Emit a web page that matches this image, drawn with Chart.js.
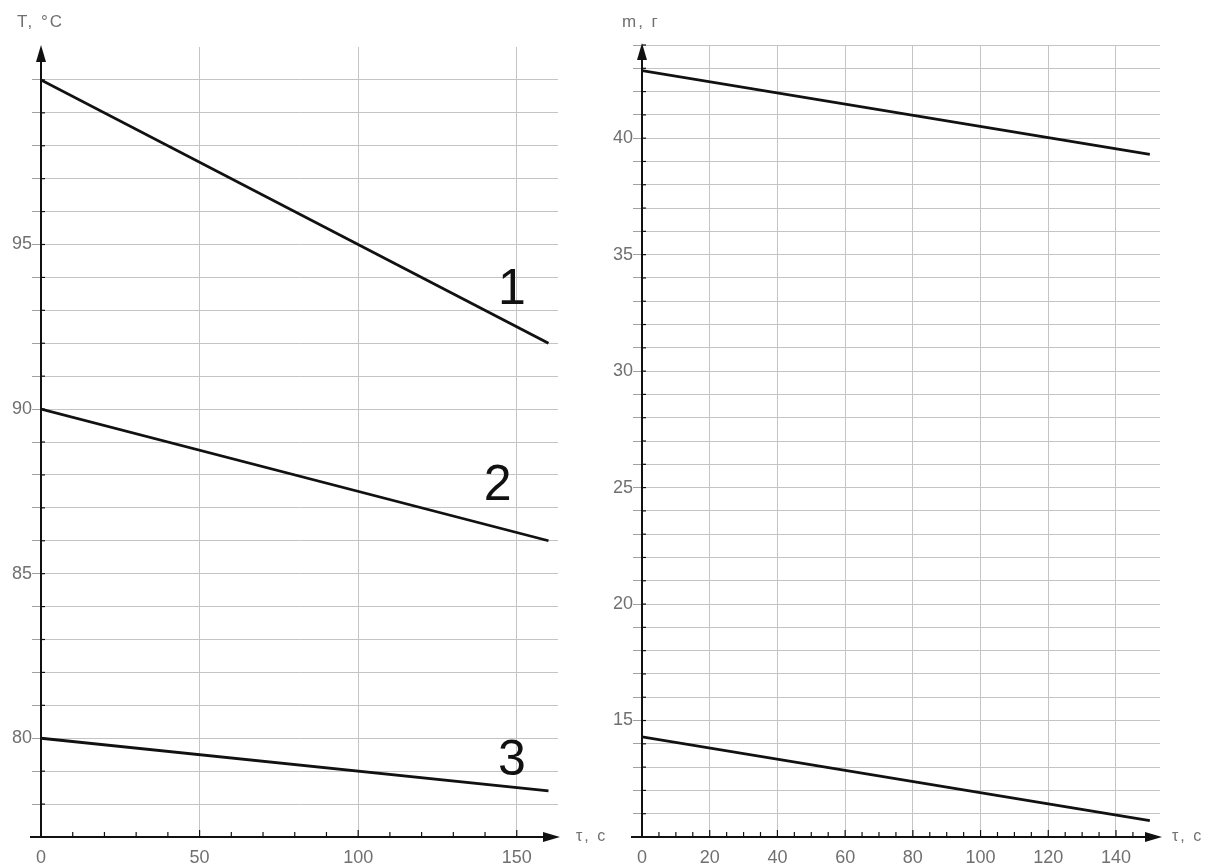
<!DOCTYPE html>
<html>
<head>
<meta charset="utf-8">
<title>T(τ), m(τ)</title>
<script src="https://cdn.jsdelivr.net/npm/chart.js@4.4.1/dist/chart.umd.min.js"></script>
<style>
  html, body { margin: 0; padding: 0; background: #fff; }
  #wrap { position: relative; width: 1218px; height: 866px; }
  canvas { position: absolute; top: 0; }
  #tempChart { left: 0; }
  #massChart { left: 609px; }
</style>
</head>
<body>
<div id="wrap">
  <canvas id="tempChart" width="609" height="866"></canvas>
  <canvas id="massChart" width="609" height="866"></canvas>
</div>
<script>
// temperature panel
var timeT = [0, 160];
var temp1 = [100, 92];
var temp2 = [90, 86];
var temp3 = [80, 78.4];
var tempLabels = [80, 85, 90, 95];
var timeLabelsT = [0, 50, 100, 150];
var curveNames = ['1', '2', '3'];
var curveNameX = [148.5, 144, 148.5];
var curveNameY = [93.6, 87.65, 79.3];

// mass panel
var timeM = [0, 150];
var massUpper = [42.9, 39.3];
var massLower = [14.3, 10.7];
var massLabels = [15, 20, 25, 30, 35, 40];
var timeLabelsM = [0, 20, 40, 60, 80, 100, 120, 140];

Chart.defaults.font.family = '"Liberation Sans", Arial, sans-serif';
Chart.defaults.color = '#707070';

var GRID = '#c4c4c4';
var NONE = 'rgba(0,0,0,0)';

function toPoints(xs, ys) {
    return xs.map(function (x, i) { return { x: x, y: ys[i] }; });
}

function lineSet(xs, ys) {
    return {
        data: toPoints(xs, ys),
        showLine: true,
        borderColor: '#111',
        borderWidth: 2.8,
        pointRadius: 0,
        fill: false
    };
}

// axis lines with arrows, inner ticks and captions
var axesPlugin = {
    id: 'axes',
    afterDatasetsDraw: function (chart, args, opts) {
        var ctx = chart.ctx, a = chart.chartArea;
        var xs = chart.scales.x, ys = chart.scales.y;
        ctx.save();
        ctx.strokeStyle = '#111';
        ctx.fillStyle = '#111';

        // short ticks pointing into the plot
        ctx.lineWidth = 1.2;
        xs.ticks.forEach(function (t) {
            if (t.value <= 0 || t.value % opts.xStep !== 0) return;
            var px = xs.getPixelForValue(t.value);
            var len = t.value % opts.xMajor === 0 ? 7 : 5;
            ctx.beginPath();
            ctx.moveTo(px, a.bottom);
            ctx.lineTo(px, a.bottom - len);
            ctx.stroke();
        });
        ys.ticks.forEach(function (t) {
            if (t.value <= ys.min || t.value > opts.yTop) return;
            var py = ys.getPixelForValue(t.value);
            ctx.beginPath();
            ctx.moveTo(a.left, py);
            ctx.lineTo(a.left + 4, py);
            ctx.stroke();
        });

        // axes
        ctx.lineWidth = 2;
        ctx.beginPath();
        ctx.moveTo(a.left - 11, a.bottom);
        ctx.lineTo(a.right - 6, a.bottom);
        ctx.moveTo(a.left, a.bottom);
        ctx.lineTo(a.left, a.top + 6);
        ctx.stroke();

        ctx.beginPath();
        ctx.moveTo(a.right + 2, a.bottom);
        ctx.lineTo(a.right - 15, a.bottom - 5);
        ctx.lineTo(a.right - 15, a.bottom + 5);
        ctx.closePath();
        ctx.fill();
        ctx.beginPath();
        ctx.moveTo(a.left, a.top - 2);
        ctx.lineTo(a.left - 5, a.top + 15);
        ctx.lineTo(a.left + 5, a.top + 15);
        ctx.closePath();
        ctx.fill();

        // axis captions
        ctx.fillStyle = '#707070';
        ctx.font = '17px "Liberation Sans", Arial, sans-serif';
        ctx.letterSpacing = '2px';
        ctx.textAlign = 'left';
        ctx.textBaseline = 'alphabetic';
        ctx.fillText(opts.yTitle, opts.yTitleX, 27);
        ctx.font = '16px "Liberation Sans", Arial, sans-serif';
        ctx.textBaseline = 'middle';
        ctx.fillText(opts.xTitle, a.right + opts.xTitleGap, a.bottom);
        ctx.letterSpacing = '0px';

        // curve numbers
        ctx.fillStyle = '#111';
        ctx.font = '50px "Liberation Sans", Arial, sans-serif';
        ctx.textAlign = 'center';
        ctx.textBaseline = 'middle';
        (opts.names || []).forEach(function (n, i) {
            ctx.fillText(n, xs.getPixelForValue(opts.nameX[i]), ys.getPixelForValue(opts.nameY[i]));
        });
        ctx.restore();
    }
};

function buildOptions(cfg) {
    return {
        responsive: false,
        animation: false,
        devicePixelRatio: 1,
        layout: { padding: { top: cfg.padTop, right: cfg.padRight, left: 0, bottom: 0 } },
        plugins: {
            legend: { display: false },
            tooltip: { enabled: false },
            axes: cfg.axes
        },
        scales: {
            x: {
                type: 'linear',
                min: 0,
                max: cfg.xMax,
                afterFit: function (s) { s.height = 29; },
                border: { display: false },
                grid: {
                    drawTicks: false,
                    lineWidth: 1,
                    color: function (c) {
                        var v = c.tick.value;
                        return (v > 0 && v % cfg.xMajor === 0 && v < cfg.xMax) ? GRID : NONE;
                    }
                },
                ticks: {
                    stepSize: cfg.xStep,
                    autoSkip: false,
                    maxRotation: 0,
                    padding: 10,
                    font: { size: 18 },
                    callback: function (v) { return cfg.xLabels.indexOf(v) >= 0 ? String(v) : ''; }
                }
            },
            y: {
                type: 'linear',
                min: cfg.yMin,
                max: cfg.yMax,
                afterFit: function (s) { s.width = cfg.yWidth; },
                border: { display: false },
                grid: {
                    lineWidth: 1,
                    tickLength: 9,
                    color: function (c) {
                        var v = c.tick.value;
                        return (v > cfg.yMin && v <= cfg.axes.yTop) ? GRID : NONE;
                    },
                    tickColor: function (c) {
                        var v = c.tick.value;
                        return (v > cfg.yMin && v <= cfg.axes.yTop) ? '#a0a0a0' : NONE;
                    }
                },
                ticks: {
                    stepSize: 1,
                    autoSkip: false,
                    maxTicksLimit: 200,
                    padding: 0,
                    font: { size: 18 },
                    callback: function (v) { return cfg.yLabels.indexOf(v) >= 0 ? String(v) : ''; }
                }
            }
        }
    };
}

new Chart(document.getElementById('tempChart'), {
    type: 'scatter',
    data: { datasets: [lineSet(timeT, temp1), lineSet(timeT, temp2), lineSet(timeT, temp3)] },
    options: buildOptions({
        padTop: 47, padRight: 51, yWidth: 41,
        xMax: 163, xStep: 10, xMajor: 50, xLabels: timeLabelsT,
        yMin: 77, yMax: 101, yLabels: tempLabels,
        axes: {
            xStep: 10, xMajor: 50, yTop: 100,
            yTitle: 'T, °C', yTitleX: 17, xTitle: 'τ, с', xTitleGap: 18,
            names: curveNames, nameX: curveNameX, nameY: curveNameY
        }
    }),
    plugins: [axesPlugin]
});

new Chart(document.getElementById('massChart'), {
    type: 'scatter',
    data: { datasets: [lineSet(timeM, massUpper), lineSet(timeM, massLower)] },
    options: buildOptions({
        padTop: 45, padRight: 58, yWidth: 33,
        xMax: 153, xStep: 5, xMajor: 20, xLabels: timeLabelsM,
        yMin: 10, yMax: 44, yLabels: massLabels,
        axes: {
            xStep: 5, xMajor: 20, yTop: 44,
            yTitle: 'm, г', yTitleX: 13, xTitle: 'τ, с', xTitleGap: 12
        }
    }),
    plugins: [axesPlugin]
});
</script>
</body>
</html>
